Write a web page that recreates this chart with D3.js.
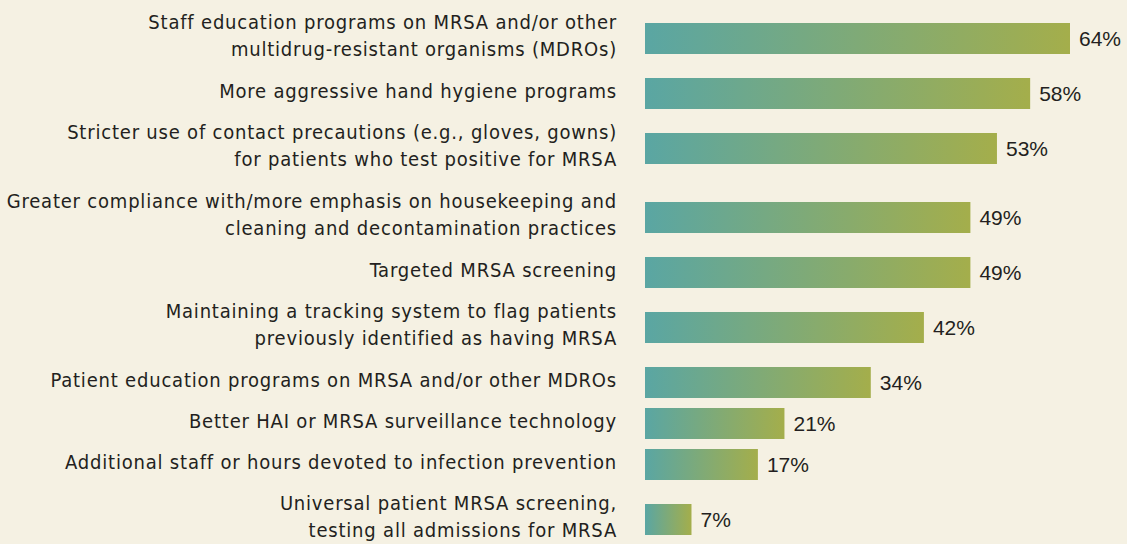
<!DOCTYPE html>
<html>
<head>
<meta charset="utf-8">
<script src="https://cdn.jsdelivr.net/npm/d3@7"></script>
<style>
  html, body { margin: 0; padding: 0; background: #f5f1e3; }
  svg { display: block; }
</style>
</head>
<body>
<svg id="chart" width="1127" height="544"></svg>
<script>
// each label is split into its printed lines
const labels = [
  ['Staff education programs on MRSA and/or other', 'multidrug-resistant organisms (MDROs)'],
  ['More aggressive hand hygiene programs'],
  ['Stricter use of contact precautions (e.g., gloves, gowns)', 'for patients who test positive for MRSA'],
  ['Greater compliance with/more emphasis on housekeeping and', 'cleaning and decontamination practices'],
  ['Targeted MRSA screening'],
  ['Maintaining a tracking system to flag patients', 'previously identified as having MRSA'],
  ['Patient education programs on MRSA and/or other MDROs'],
  ['Better HAI or MRSA surveillance technology'],
  ['Additional staff or hours devoted to infection prevention'],
  ['Universal patient MRSA screening,', 'testing all admissions for MRSA']
];
const values = [64, 58, 53, 49, 49, 42, 34, 21, 17, 7];

const svg = d3.select('#chart');

const defs = svg.append('defs');
const grad = defs.append('linearGradient').attr('id', 'barGrad')
  .attr('x1', '0%').attr('x2', '100%').attr('y1', '0%').attr('y2', '0%');
grad.append('stop').attr('offset', '0%').attr('stop-color', '#5aa6a3');
grad.append('stop').attr('offset', '100%').attr('stop-color', '#a4ae4b');

const x = d3.scaleLinear().domain([0, d3.max(values)]).range([645, 1070]);

// rows get taller when the label wraps onto two lines
const lineStep = 27;
const rowH = n => 13 + 28 * n;
const rows = [];
let rowTop = 4;
for (let i = 0; i < values.length; i++) {
  const h = rowH(labels[i].length);
  rows.push({ lines: labels[i], value: values[i], cy: rowTop + h / 2 });
  rowTop += h;
}

const barH = 31;
const g = svg.append('g');

const row = g.selectAll('g.row').data(rows).enter().append('g').attr('class', 'row');

row.append('rect')
  .attr('x', x(0))
  .attr('y', d => d.cy - barH / 2)
  .attr('width', d => x(d.value) - x(0))
  .attr('height', barH)
  .attr('fill', 'url(#barGrad)');

row.append('text')
  .attr('x', d => x(d.value) + 9)
  .attr('y', d => d.cy + 7.5)
  .style('font-family', "'Liberation Sans', Arial, sans-serif")
  .style('font-size', '21px')
  .style('fill', '#231f20')
  .text(d => d.value + '%');

row.each(function(d) {
  const t = d3.select(this).append('text')
    .attr('text-anchor', 'end')
    .style('font-family', "'Liberation Sans Narrow', 'DejaVu Sans Condensed', sans-serif")
    .style('font-size', '20px')
    .style('letter-spacing', '0.8px')
    .style('fill', '#231f20');
  const n = d.lines.length;
  d.lines.forEach((line, i) => {
    t.append('tspan')
      .attr('x', 617)
      .attr('y', d.cy + 4 + (i - (n - 1) / 2) * lineStep)
      .text(line);
  });
});
</script>
</body>
</html>
